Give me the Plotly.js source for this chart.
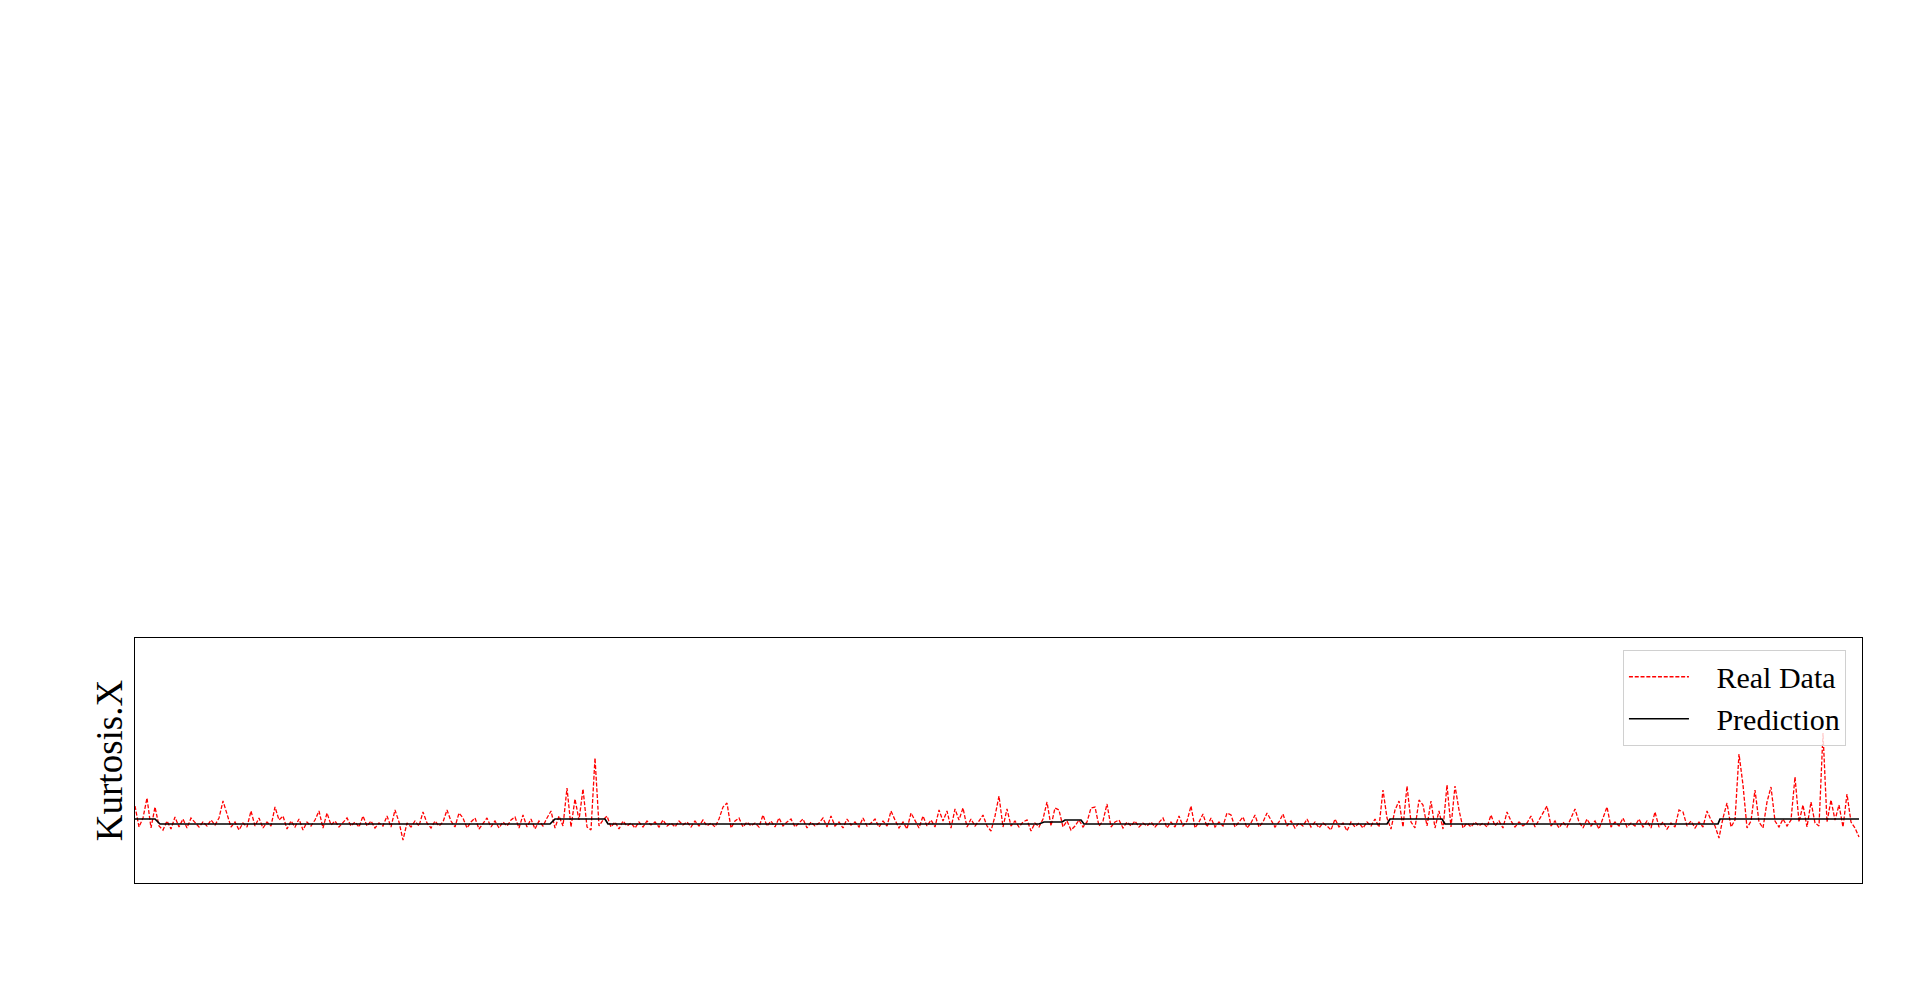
<!DOCTYPE html>
<html>
<head>
<meta charset="utf-8">
<script src="https://cdn.plot.ly/plotly-3.0.1.min.js"></script>
<style>html,body{margin:0;padding:0;background:#fff;}#chart{width:1920px;height:981px;}</style>
</head>
<body>
<div id="chart"></div>
<script>
// Real data (sample index = array position)
const realData = [
 1.8,-0.3,0.6,2.6,-0.4,1.7,-0.2,-0.6,0.3,-0.5,0.7,-0.3,0.5,-0.4,0.6,0.1,-0.3,0.2,-0.2,0.4,
 -0.1,0.6,2.3,1.0,-0.3,0.2,-0.6,0.1,-0.3,1.3,-0.2,0.6,-0.4,0.2,-0.2,1.7,0.4,0.8,-0.5,0.3,
 -0.3,0.5,-0.6,0.2,-0.2,0.4,1.3,-0.4,1.1,-0.1,0.3,-0.3,0.2,0.6,-0.2,
 0.2,-0.3,0.8,-0.2,0.3,-0.4,0.1,-0.2,0.8,-0.3,1.4,0.2,-1.6,0.1,-0.3,0.3,-0.2,1.2,0.1,-0.4,
 0.3,-0.2,0.2,1.4,0.3,-0.3,1.1,0.6,-0.4,0.2,0.6,-0.5,0.1,0.6,-0.3,0.3,-0.4,0.2,-0.2,0.4,
 0.7,-0.4,0.9,-0.3,0.5,-0.5,0.3,-0.2,0.6,1.3,-0.4,0.8,-0.2,3.6,-0.3,2.5,0.4,3.5,-0.3,-0.6,
 6.6,-0.2,0.4,0.8,-0.3,0.2,-0.5,0.3,-0.2,0.1,-0.4,0.2,-0.3,0.3,-0.1,0.2,-0.3,0.4,-0.2,0.1,
 -0.3,0.3,-0.1,0.2,-0.3,0.3,-0.2,0.4,-0.2,0.1,-0.3,0.5,1.7,2.1,-0.4,0.3,0.6,-0.3,0.2,-0.2,
 0.1,-0.3,0.9,-0.2,0.3,-0.3,0.6,
 -0.2,0.2,0.5,-0.3,0.1,0.5,-0.4,0.2,-0.2,0.1,0.6,-0.3,0.8,-0.2,0.2,-0.4,0.5,-0.1,0.2,-0.3,
 0.6,-0.2,0.1,0.5,-0.3,0.3,-0.2,1.3,0.4,-0.4,0.2,-0.5,1.1,0.3,-0.4,0.8,-0.2,0.4,-0.3,1.4,
 0.3,1.3,-0.4,1.5,0.4,1.6,-0.3,0.5,-0.2,0.3,0.9,-0.2,-0.7,
 0.8,2.8,-0.3,1.5,-0.2,0.3,-0.3,0.2,0.4,-0.7,0.1,-0.3,0.5,2.2,-0.2,1.6,1.4,-0.3,0.3,-0.6,
 -0.2,0.4,-0.3,0.2,1.6,1.7,-0.2,0.3,2.0,-0.3,0.2,0.4,-0.4,0.2,-0.2,0.3,-0.3,0.1,-0.2,0.2,
 -0.3,0.1,0.6,-0.4,0.2,-0.3,0.8,-0.2,0.3,1.8,-0.4,0.2,1.0,-0.3,
 0.6,-0.3,0.2,-0.2,1.1,0.9,-0.3,0.2,0.7,-0.4,0.1,0.9,-0.3,0.2,1.1,0.4,-0.3,0.2,1.0,-0.2,
 0.3,-0.4,0.1,-0.2,0.5,-0.3,0.2,-0.4,0.1,-0.2,-0.6,0.5,-0.3,0.1,-0.7,0.2,-0.3,0.1,-0.4,0.2,
 -0.2,0.5,-0.3,3.4,0.6,-0.5,1.4,2.3,-0.3,3.8,0.2,-0.4,2.4,1.9,-0.2,
 2.3,-0.4,1.3,-0.5,3.9,-0.3,3.8,1.4,-0.4,0.1,-0.3,0.2,-0.2,0.1,-0.3,0.9,-0.2,0.3,-0.4,1.2,
 0.3,-0.3,0.2,-0.2,0.1,0.8,-0.3,0.4,1.0,1.8,-0.2,0.3,-0.4,0.2,-0.3,0.6,1.5,0.2,-0.4,0.5,
 -0.2,0.3,-0.5,0.6,1.7,-0.3,0.2,-0.2,0.6,-0.3,0.1,-0.2,0.5,
 -0.3,0.3,-0.4,1.2,-0.3,0.2,-0.5,0.1,-0.3,1.4,1.2,-0.2,0.3,-0.4,0.2,-0.3,1.3,0.4,-0.2,-1.4,
 0.6,2.1,-0.3,0.4,7.0,3.9,-0.4,0.3,3.4,0.2,-0.4,2.2,3.7,0.3,-0.3,0.5,-0.2,0.4,4.7,0.2,
 1.9,-0.3,2.2,0.1,-0.2,9.1,0.2,2.4,0.4,1.9,-0.3,3.0,0.2,-0.4,-1.3
];

// Prediction: breakpoints (sample index) and levels
const predX = [0, 5, 6.25, 103.75, 105, 117.5, 118.25, 226, 227.25, 231.75, 232.5, 236.5, 237.25, 313, 313.75, 326.75, 327.5, 395.75, 396.25, 431];
const predY = [0.5, 0.5, 0, 0, 0.5, 0.5, 0, 0, 0.2, 0.2, 0.4, 0.4, 0, 0, 0.5, 0.5, 0, 0, 0.5, 0.5];

const seriesNames = ["Real Data", "Prediction"];
const yTitle = "Kurtosis.X";

const pad = "\u00a0\u00a0\u00a0";
const serif = "Liberation Serif, Times New Roman, serif";

const traces = [
  {
    y: realData,
    type: "scatter",
    mode: "lines",
    name: pad + seriesNames[0],
    line: {color: "#ff0000", width: 1.3, dash: "4px,1.8px"}
  },
  {
    x: predX,
    y: predY,
    type: "scatter",
    mode: "lines",
    name: pad + seriesNames[1],
    line: {color: "#000000", width: 1.7}
  }
];

const layout = {
  width: 1920,
  height: 981,
  paper_bgcolor: "#ffffff",
  plot_bgcolor: "#ffffff",
  margin: {l: 135, r: 58, t: 638, b: 98, pad: 0},
  font: {family: serif, color: "#000"},
  showlegend: true,
  legend: {
    x: 0.9907, y: 0.952, xanchor: "right", yanchor: "top",
    bgcolor: "rgba(255,255,255,0.8)",
    bordercolor: "#d0d0d0", borderwidth: 1,
    font: {family: serif, size: 30, color: "#000"},
    itemwidth: 60,
    tracegroupgap: 0
  },
  xaxis: {
    range: [0, 431.75],
    showgrid: false, zeroline: false, showticklabels: false, ticks: "",
    showline: true, linecolor: "#000", linewidth: 1, mirror: true
  },
  yaxis: {
    range: [-5.9, 18.6],
    showgrid: false, zeroline: false, showticklabels: false, ticks: "",
    showline: true, linecolor: "#000", linewidth: 1, mirror: true,
    title: {text: yTitle, font: {family: serif, size: 37, color: "#000"}, standoff: 0}
  }
};

Plotly.newPlot("chart", traces, layout, {displayModeBar: false, staticPlot: true});
</script>
</body>
</html>
